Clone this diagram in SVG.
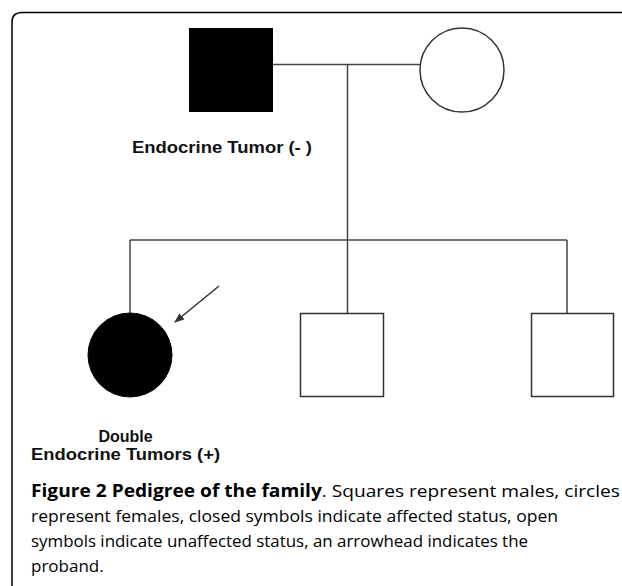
<svg xmlns="http://www.w3.org/2000/svg" width="622" height="586" viewBox="0 0 622 586">
  <style>
    .line { stroke: #444; stroke-width: 1.5; fill: none; }
    .open { fill: #fff; stroke: #333; stroke-width: 1.5; }
    .closed { fill: #000; stroke: #000; stroke-width: 1; }
    .lbl { font-family: "Liberation Sans", Arial, sans-serif; font-weight: bold; font-size: 16px; fill: #111; }
    .cap { font-family: "Open Sans", "Noto Sans", sans-serif; font-size: 17px; fill: #000; }
    .b { font-weight: bold; }
  </style>
  <defs>
    <marker id="arr" markerWidth="10" markerHeight="8" refX="9" refY="4" orient="auto" markerUnits="userSpaceOnUse">
      <path d="M0,0 L10,4 L0,8 Z" fill="#333"/>
    </marker>
  </defs>
  <rect width="622" height="586" fill="#fff"/>
  <path d="M12,586 V22 Q12,12.5 22,12.5 H622" fill="none" stroke="#000" stroke-width="1.5"/>

  <g id="connectors">
    <line class="line" x1="273" y1="64.5" x2="421" y2="64.5"/>
    <line class="line" x1="347.5" y1="64.5" x2="347.5" y2="240"/>
    <line class="line" x1="130" y1="240" x2="567" y2="240"/>
    <line class="line" x1="130" y1="240" x2="130" y2="313"/>
    <line class="line" x1="347.5" y1="240" x2="347.5" y2="313"/>
    <line class="line" x1="567" y1="240" x2="567" y2="313"/>
    <line x1="219" y1="286" x2="175" y2="322" stroke="#333" stroke-width="1.5" marker-end="url(#arr)"/>
  </g>

  <g id="father">
    <rect class="closed" x="189.5" y="28.5" width="83" height="83"/>
    <text class="lbl" x="132" y="153" textLength="180" lengthAdjust="spacingAndGlyphs">Endocrine Tumor (- )</text>
  </g>
  <g id="mother">
    <circle class="open" cx="462" cy="70" r="42"/>
  </g>
  <g id="proband">
    <circle class="closed" cx="130" cy="355" r="42"/>
    <text class="lbl" x="125.5" y="442" text-anchor="middle">Double</text>
    <text class="lbl" x="31" y="460" textLength="189" lengthAdjust="spacingAndGlyphs">Endocrine Tumors (+)</text>
  </g>
  <g id="son1">
    <rect class="open" x="300.5" y="313.5" width="83" height="83"/>
  </g>
  <g id="son2">
    <rect class="open" x="531.5" y="313.5" width="82" height="83"/>
  </g>

  <g id="caption">
    <text class="cap" x="31" y="497" textLength="589" lengthAdjust="spacingAndGlyphs"><tspan class="b">Figure 2 Pedigree of the family</tspan>. Squares represent males, circles</text>
    <text class="cap" x="31" y="522" textLength="527" lengthAdjust="spacingAndGlyphs">represent females, closed symbols indicate affected status, open</text>
    <text class="cap" x="31" y="547" textLength="497" lengthAdjust="spacingAndGlyphs">symbols indicate unaffected status, an arrowhead indicates the</text>
    <text class="cap" x="31" y="572">proband.</text>
  </g>
</svg>
